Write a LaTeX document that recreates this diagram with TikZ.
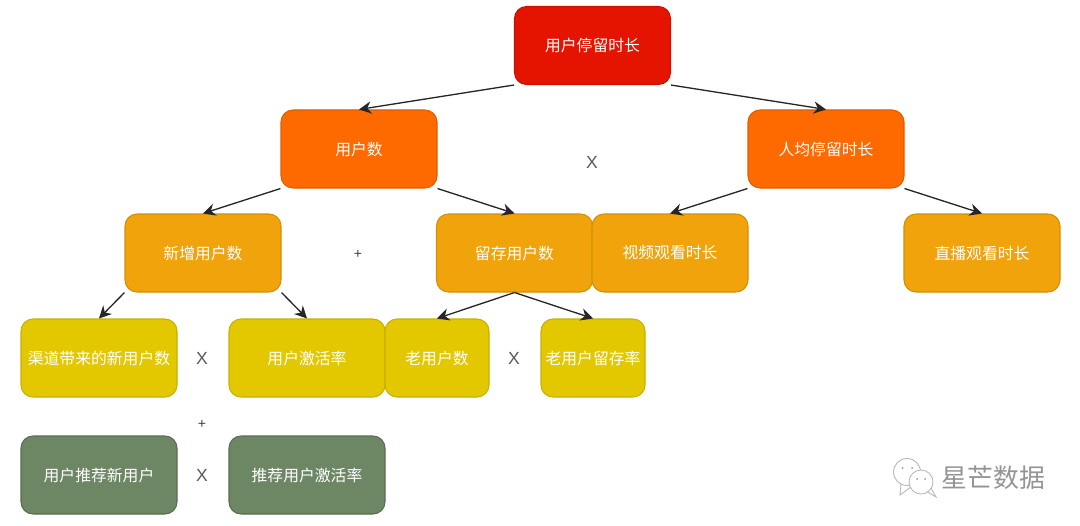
\documentclass[tikz,border=0pt]{standalone}
\usepackage{fontspec}
\setmainfont{Noto Sans CJK SC}
\newfontfamily\latinop{Liberation Sans}
\usepackage{xcolor}
\usetikzlibrary{arrows.meta}
\definecolor{boxred}{HTML}{E51400}
\definecolor{boxorange}{HTML}{FF6A00}
\definecolor{boxamber}{HTML}{F0A30A}
\definecolor{boxyellow}{HTML}{E3C800}
\definecolor{boxgreen}{HTML}{6D8764}
\tikzset{
    box/.style={draw, line width=0.6pt, rounded corners=0.24cm, minimum width=3.12cm, minimum height=1.56cm, inner sep=0pt, text=white, font=\fontsize{9pt}{10pt}\selectfont},
    redbox/.style={box, fill=boxred, draw=boxred!88!black},
    orangebox/.style={box, fill=boxorange, draw=boxorange!88!black},
    amberbox/.style={box, fill=boxamber, draw=boxamber!88!black},
    yellowbox/.style={box, fill=boxyellow, draw=boxyellow!88!black},
    greenbox/.style={box, fill=boxgreen, draw=boxgreen!80!black},
    optext/.style={text=black!65, font=\latinop\fontsize{10pt}{12pt}\selectfont, inner sep=0pt},
    oplus/.style={text=black!75, font=\latinop\fontsize{8pt}{9pt}\selectfont, inner sep=0pt},
    link/.style={-{Stealth[length=7pt, width=7pt]}, line width=0.75pt, black!85},
}
\begin{document}
\begin{tikzpicture}
    \useasboundingbox (0,0) rectangle (21.6,10.5);
    \node[redbox] (total) at (11.85,9.59) {用户停留时长};
    \node[orangebox] (users) at (7.18,7.52) {用户数};
    \node[orangebox] (perUser) at (16.52,7.52) {人均停留时长};
    \node[amberbox] (newUsers) at (4.06,5.44) {新增用户数};
    \node[amberbox] (kept) at (10.29,5.44) {留存用户数};
    \node[amberbox] (video) at (13.40,5.44) {视频观看时长};
    \node[amberbox] (live) at (19.64,5.44) {直播观看时长};
    \node[yellowbox] (channel) at (1.98,3.34) {渠道带来的新用户数};
    \node[yellowbox] (active) at (6.14,3.34) {用户激活率};
    \node[yellowbox, minimum width=2.08cm] (oldUsers) at (8.74,3.34) {老用户数};
    \node[yellowbox, minimum width=2.08cm] (oldRate) at (11.86,3.34) {老用户留存率};
    \node[greenbox] (invite) at (1.98,1.00) {用户推荐新用户};
    \node[greenbox] (inviteRate) at (6.14,1.00) {推荐用户激活率};

    \node[optext] (opTop) at (11.84,7.26) {X};
    \node[oplus] (opNew) at (7.16,5.42) {+};
    \node[optext] (opChannel) at (4.04,3.34) {X};
    \node[optext] (opOld) at (10.28,3.34) {X};
    \node[oplus] (opSum) at (4.04,2.02) {+};
    \node[optext] (opInvite) at (4.04,1.00) {X};

    \draw[link] (total.south west) -- (users.north);
    \draw[link] (total.south east) -- (perUser.north);
    \draw[link] (users.south west) -- (newUsers.north);
    \draw[link] (users.south east) -- (kept.north);
    \draw[link] (perUser.south west) -- (video.north);
    \draw[link] (perUser.south east) -- (live.north);
    \draw[link] (newUsers.south west) -- (channel.north);
    \draw[link] (newUsers.south east) -- (active.north);
    \draw[link] (kept.south) -- (oldUsers.north);
    \draw[link] (kept.south) -- (oldRate.north);

    % watermark
    \draw[black!28, line width=0.5pt, fill=white] (18.14,1.06) circle (0.27);
    \draw[black!28, line width=0.5pt] (18.02,0.82) -- (18.0,0.6) -- (18.3,0.82);
    \draw[black!28, line width=0.5pt, fill=white] (18.42,0.86) circle (0.24);
    \draw[black!28, line width=0.5pt] (18.55,0.66) -- (18.72,0.56) -- (18.62,0.74);
    \fill[black!40] (18.05,1.14) circle (0.02) (18.24,1.14) circle (0.02) (18.34,0.92) circle (0.02) (18.5,0.92) circle (0.02);
    \node[text=black!42, font=\fontsize{14.7pt}{16pt}\selectfont, inner sep=0pt] (mark) at (19.87,0.95) {星芒数据};
\end{tikzpicture}
\end{document}
